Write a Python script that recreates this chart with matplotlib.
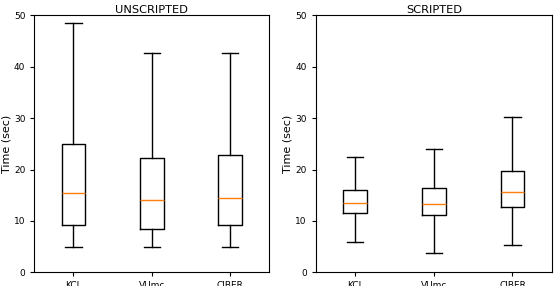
import matplotlib
matplotlib.use("Agg")
import matplotlib.pyplot as plt

sites = ['KCL', 'VUmc', 'CIBER']

# five-number summaries (sec)
unscripted_low = [5.0, 5.0, 5.0]
unscripted_q1 = [9.2, 8.5, 9.2]
unscripted_med = [15.4, 14.0, 14.4]
unscripted_q3 = [24.9, 22.2, 22.9]
unscripted_high = [48.5, 42.6, 42.6]

scripted_low = [5.8, 3.8, 5.4]
scripted_q1 = [11.6, 11.2, 12.8]
scripted_med = [13.5, 13.3, 15.6]
scripted_q3 = [16.0, 16.4, 19.8]
scripted_high = [22.5, 24.0, 30.2]


def make_stats(low, q1, med, q3, high):
    stats = []
    for i, name in enumerate(sites):
        stats.append({'label': name, 'whislo': low[i], 'q1': q1[i], 'med': med[i],
                      'q3': q3[i], 'whishi': high[i], 'fliers': []})
    return stats


fig = plt.figure(figsize=(5.54, 2.86), dpi=100)
ax1 = fig.add_axes([0.062, 0.048, 0.424, 0.898])
ax2 = fig.add_axes([0.570, 0.048, 0.426, 0.898])

panels = [
    (ax1, 'UNSCRIPTED', make_stats(unscripted_low, unscripted_q1, unscripted_med, unscripted_q3, unscripted_high)),
    (ax2, 'SCRIPTED', make_stats(scripted_low, scripted_q1, scripted_med, scripted_q3, scripted_high)),
]

for ax, title, stats in panels:
    ax.bxp(stats, widths=0.3, capwidths=0.21, showfliers=False,
           medianprops={'color': '#ff7f0e'})
    ax.set_ylim(0, 50)
    ax.set_yticks([0, 10, 20, 30, 40, 50])
    ax.set_title(title, fontsize=8.2, pad=2)
    ax.set_ylabel('Time (sec)', fontsize=8, labelpad=2)
    ax.tick_params(labelsize=6.5, length=3)

fig.savefig('out.png', dpi=100)
